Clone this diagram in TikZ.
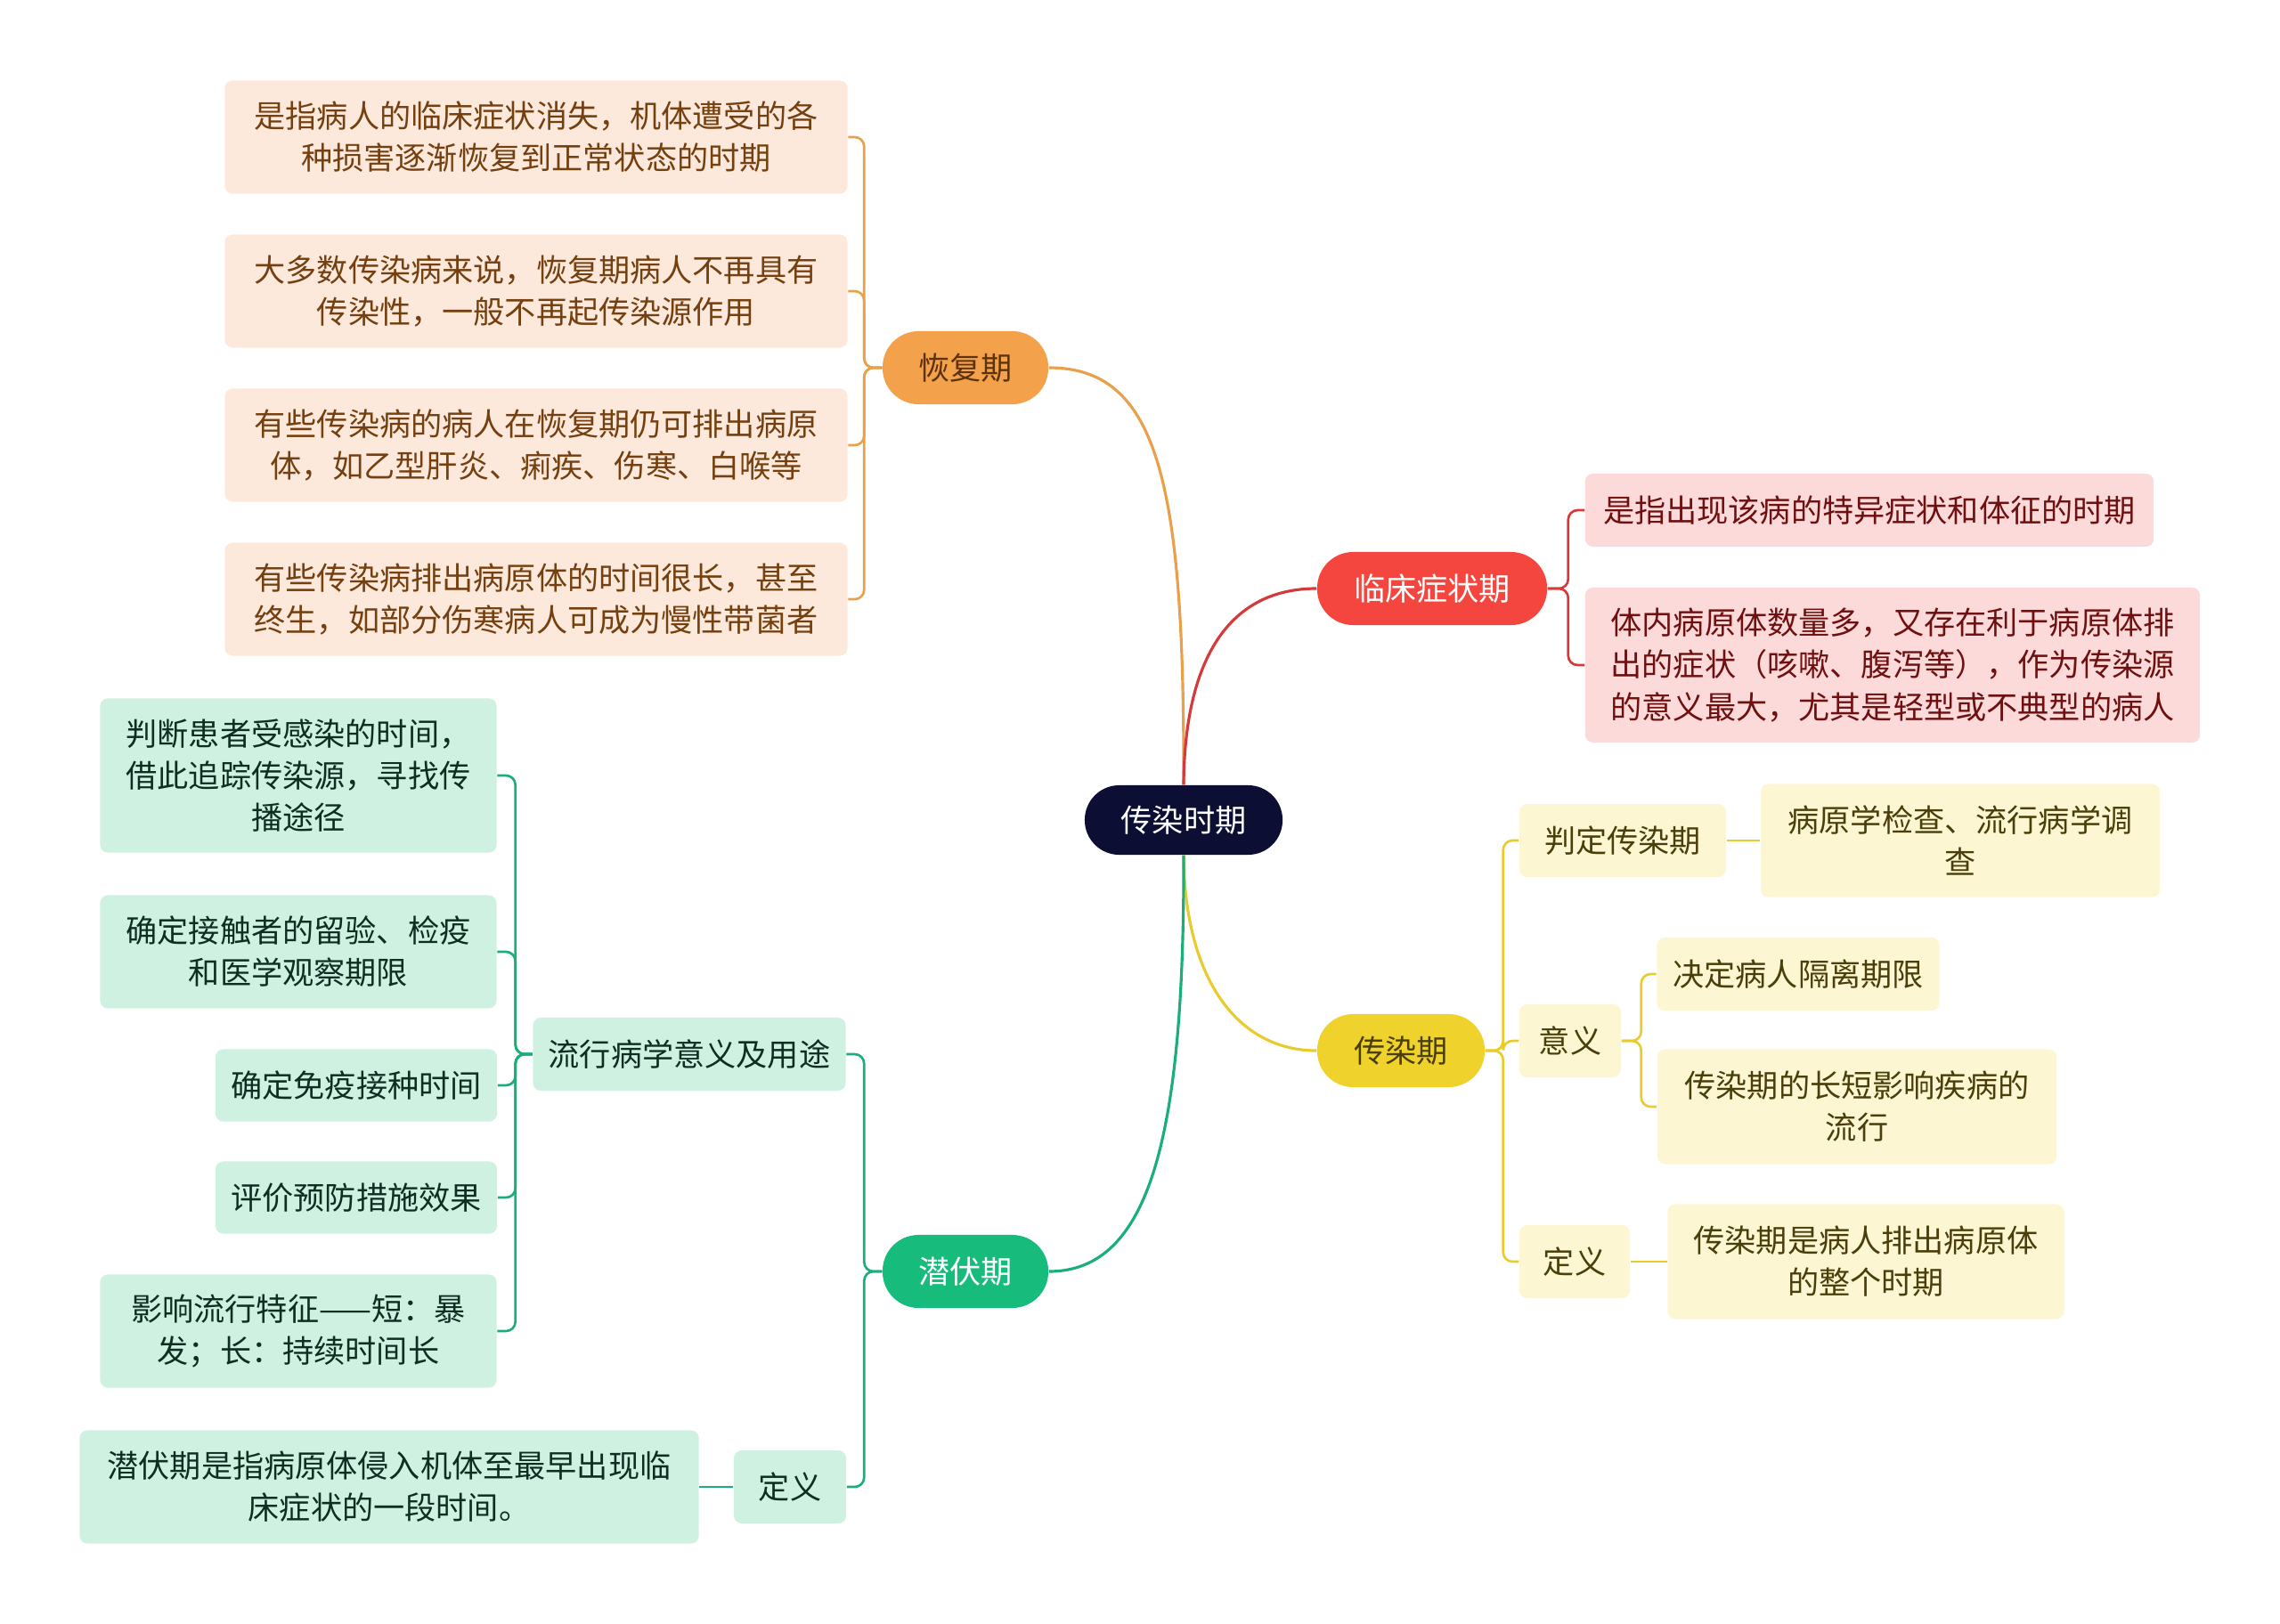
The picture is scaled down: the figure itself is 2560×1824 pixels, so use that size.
\documentclass[tikz,border=0pt]{standalone}
\usepackage{fontspec}
\setmainfont{Noto Sans CJK SC}
\usepackage{tikz}
\usetikzlibrary{positioning, calc}
\definecolor{hubblue}{HTML}{0C0F33}
\definecolor{recorange}{HTML}{F4A14B}
\definecolor{recline}{HTML}{E9A04A}
\definecolor{recleaf}{HTML}{FDE9DC}
\definecolor{rectext}{HTML}{74400F}
\definecolor{clinred}{HTML}{F4463E}
\definecolor{clinline}{HTML}{D6393A}
\definecolor{clinleaf}{HTML}{FCDADA}
\definecolor{clintext}{HTML}{6E1010}
\definecolor{infyellow}{HTML}{EFD22B}
\definecolor{infline}{HTML}{EACB2E}
\definecolor{infleaf}{HTML}{FDF6D3}
\definecolor{inftext}{HTML}{4A3F0A}
\definecolor{incgreen}{HTML}{17BB7B}
\definecolor{incline}{HTML}{1AAE78}
\definecolor{incleaf}{HTML}{CFF1E2}
\definecolor{inctext}{HTML}{0F2E22}

\tikzset{
  every node/.style={font=\fontsize{10}{13.4}\selectfont, align=center, inner sep=0pt},
  hubnode/.style={fill=hubblue, text=white, rounded corners=11pt},
  phasenode/.style={rounded corners=11.5pt, minimum height=0.82cm},
  leafnode/.style={rounded corners=2.5pt},
  mainline/.style={line width=0.9pt},
  subline/.style={line width=0.75pt, rounded corners=3pt},
}

\begin{document}
\begin{tikzpicture}[x=0.01cm, y=-0.01cm]
    \useasboundingbox (0,0) rectangle (2560,1824);

    % Centre
    \node[hubnode, minimum width=2.22cm, minimum height=0.78cm] (hub) at (1329,921) {传染时期};

    % Main phases
    \node[phasenode, fill=recorange, text=rectext!80!black, minimum width=1.86cm] (rec) at (1084,413) {恢复期};
    \node[phasenode, fill=clinred, text=white, minimum width=2.58cm] (clin) at (1608,661) {临床症状期};
    \node[phasenode, fill=infyellow, text=inftext, minimum width=1.88cm] (inf) at (1573,1180) {传染期};
    \node[phasenode, fill=incgreen, text=white, minimum width=1.86cm] (inc) at (1084,1428) {潜伏期};

    \draw[mainline, recline] (hub.north) .. controls (1330,540) and (1300,413) .. (rec.east);
    \draw[mainline, clinline] (hub.north) .. controls (1330,740) and (1380,661) .. (clin.west);
    \draw[mainline, infline] (hub.south) .. controls (1330,1100) and (1390,1180) .. (inf.west);
    \draw[mainline, incline] (hub.south) .. controls (1330,1280) and (1290,1428) .. (inc.east);

    % Recovery
    \node[leafnode, fill=recleaf, text=rectext, minimum width=6.99cm, minimum height=1.27cm] (rec1) at (602,154) {是指病人的临床症状消失，机体遭受的各\\种损害逐渐恢复到正常状态的时期};
    \node[leafnode, fill=recleaf, text=rectext, minimum width=6.99cm, minimum height=1.27cm] (rec2) at (602,327) {大多数传染病来说，恢复期病人不再具有\\传染性，一般不再起传染源作用};
    \node[leafnode, fill=recleaf, text=rectext, minimum width=6.99cm, minimum height=1.27cm] (rec3) at (602,500) {有些传染病的病人在恢复期仍可排出病原\\体，如乙型肝炎、痢疾、伤寒、白喉等};
    \node[leafnode, fill=recleaf, text=rectext, minimum width=6.99cm, minimum height=1.27cm] (rec4) at (602,673) {有些传染病排出病原体的时间很长，甚至\\终生，如部分伤寒病人可成为慢性带菌者};
    \foreach \n in {rec1,rec2,rec3,rec4}
      \draw[subline, recline] (rec.west) -- ++(-20,0) |- (\n.east);

    % Clinical
    \node[leafnode, fill=clinleaf, text=clintext, minimum width=6.38cm, minimum height=0.82cm] (clin1) at (2099,573) {是指出现该病的特异症状和体征的时期};
    \node[leafnode, fill=clinleaf, text=clintext, minimum width=6.90cm, minimum height=1.74cm] (clin2) at (2125,747) {体内病原体数量多，又存在利于病原体排\\出的症状（咳嗽、腹泻等），作为传染源\\的意义最大，尤其是轻型或不典型的病人};
    \foreach \n in {clin1,clin2}
      \draw[subline, clinline] (clin.east) -- ++(23,0) |- (\n.west);

    % Infectious
    \node[leafnode, fill=infleaf, text=inftext, minimum width=2.32cm, minimum height=0.82cm] (judge) at (1822,944) {判定传染期};
    \node[leafnode, fill=infleaf, text=inftext, minimum width=4.48cm, minimum height=1.27cm] (judge1) at (2201,944) {病原学检查、流行病学调\\查};
    \node[leafnode, fill=infleaf, text=inftext, minimum width=1.14cm, minimum height=0.82cm] (mean) at (1763,1169) {意义};
    \node[leafnode, fill=infleaf, text=inftext, minimum width=3.17cm, minimum height=0.82cm] (mean1) at (2019,1094) {决定病人隔离期限};
    \node[leafnode, fill=infleaf, text=inftext, minimum width=4.48cm, minimum height=1.29cm] (mean2) at (2085,1243) {传染期的长短影响疾病的\\流行};
    \node[leafnode, fill=infleaf, text=inftext, minimum width=1.24cm, minimum height=0.82cm] (infdef) at (1768,1417) {定义};
    \node[leafnode, fill=infleaf, text=inftext, minimum width=4.45cm, minimum height=1.29cm] (infdef1) at (2095,1417) {传染期是病人排出病原体\\的整个时期};
    \foreach \n in {judge,mean,infdef}
      \draw[subline, infline] (inf.east) -- ++(20,0) |- (\n.west);
    \draw[subline, infline] (judge.east) -- (judge1.west);
    \foreach \n in {mean1,mean2}
      \draw[subline, infline] (mean.east) -- ++(22,0) |- (\n.west);
    \draw[subline, infline] (infdef.east) -- (infdef1.west);

    % Incubation
    \node[leafnode, fill=incleaf, text=inctext, minimum width=3.51cm, minimum height=0.82cm] (epi) at (774,1184) {流行病学意义及用途};
    \node[leafnode, fill=incleaf, text=inctext, minimum width=1.26cm, minimum height=0.82cm] (incdef) at (887,1670) {定义};
    \node[leafnode, fill=incleaf, text=inctext, minimum width=6.95cm, minimum height=1.27cm] (incdef1) at (437,1670) {潜伏期是指病原体侵入机体至最早出现临\\床症状的一段时间。};
    \node[leafnode, fill=incleaf, text=inctext, minimum width=4.45cm, minimum height=1.73cm] (epi1) at (335,871) {判断患者受感染的时间，\\借此追踪传染源，寻找传\\播途径};
    \node[leafnode, fill=incleaf, text=inctext, minimum width=4.45cm, minimum height=1.27cm] (epi2) at (335,1069) {确定接触者的留验、检疫\\和医学观察期限};
    \node[leafnode, fill=incleaf, text=inctext, minimum width=3.16cm, minimum height=0.81cm] (epi3) at (400,1219) {确定免疫接种时间};
    \node[leafnode, fill=incleaf, text=inctext, minimum width=3.16cm, minimum height=0.81cm] (epi4) at (400,1345) {评价预防措施效果};
    \node[leafnode, fill=incleaf, text=inctext, minimum width=4.45cm, minimum height=1.27cm] (epi5) at (335,1495) {影响流行特征——短：暴\\发；长：持续时间长};
    \foreach \n in {epi,incdef}
      \draw[subline, incline] (inc.west) -- ++(-20,0) |- (\n.east);
    \foreach \n in {epi1,epi2,epi3,epi4,epi5}
      \draw[subline, incline] (epi.west) -- ++(-19,0) |- (\n.east);
    \draw[subline, incline] (incdef.west) -- (incdef1.east);
\end{tikzpicture}
\end{document}
